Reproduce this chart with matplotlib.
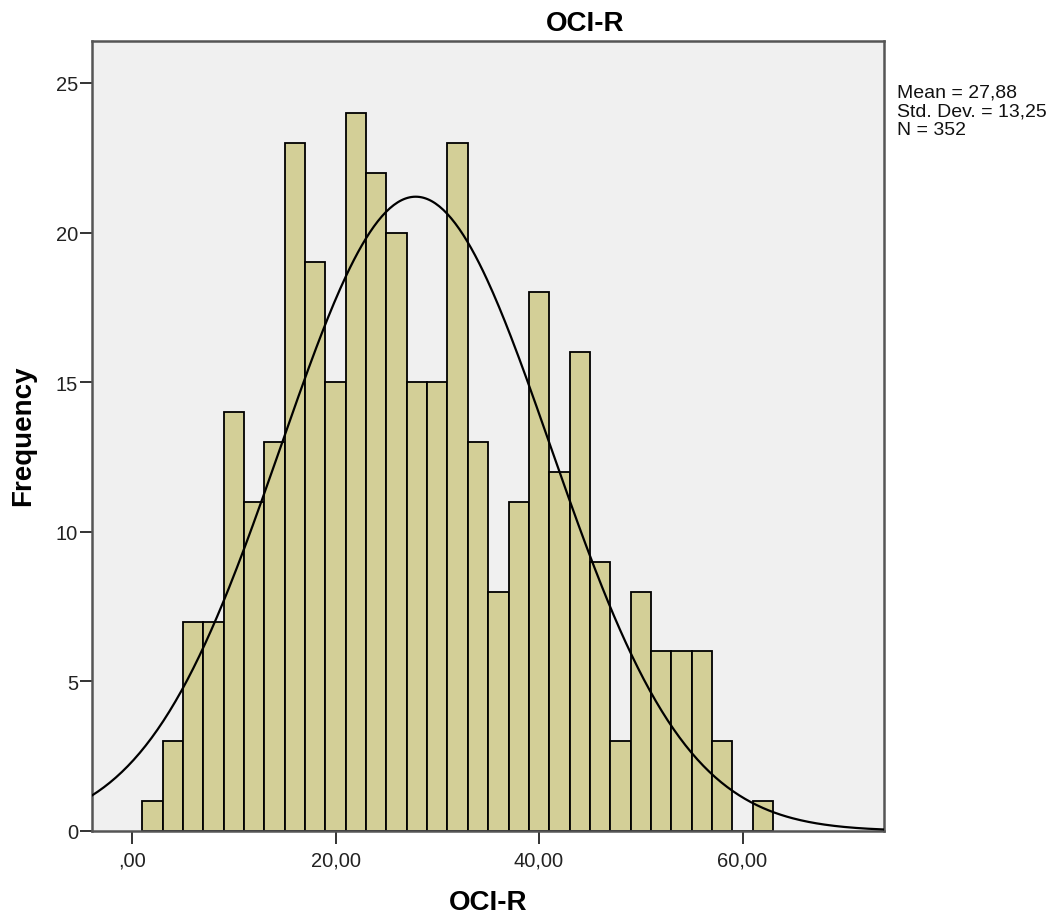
import numpy as np
import matplotlib
matplotlib.use("Agg")
import matplotlib.pyplot as plt

plt.rcParams['font.family'] = ['Liberation Sans', 'DejaVu Sans']

# histogram bins (left edges, width 2) and counts
bin_left = [1, 3, 5, 7, 9, 11, 13, 15, 17, 19, 21, 23, 25, 27, 29, 31,
            33, 35, 37, 39, 41, 43, 45, 47, 49, 51, 53, 55, 57, 59, 61]
counts = [1, 3, 7, 7, 14, 11, 13, 23, 19, 15, 24, 22, 20, 15, 15, 23,
          13, 8, 11, 18, 12, 16, 9, 3, 8, 6, 6, 6, 3, 0, 1]
bin_width = 2.0

mean = 27.88
std = 13.25
n = 352

x_ticks = [0, 20, 40, 60]
x_ticklabels = [',00', '20,00', '40,00', '60,00']
y_ticks = [0, 5, 10, 15, 20, 25]

fig = plt.figure(figsize=(10.64, 9.20), dpi=100)
ax = fig.add_axes([92/1064, 88/920, (884-92)/1064, (832-42)/920])
ax.set_facecolor('#f0f0f0')

ax.bar(bin_left, counts, width=bin_width, align='edge',
       color='#d3cf97', edgecolor='black', linewidth=1.3, zorder=2)

xlim = (-3.93, 73.9)
xs = np.linspace(xlim[0], xlim[1], 400)
ys = n * bin_width * np.exp(-0.5*((xs-mean)/std)**2) / (std*np.sqrt(2*np.pi))
ax.plot(xs, ys, color='black', linewidth=1.6, zorder=3)

ax.set_xlim(*xlim)
ax.set_ylim(0, 26.4)
ax.set_xticks(x_ticks)
ax.set_xticklabels(x_ticklabels)
ax.set_yticks(y_ticks)

for s in ax.spines.values():
    s.set_color('#555555')
    s.set_linewidth(1.8)

ax.tick_params(axis='x', direction='out', length=9, width=1.4, color='#333333',
               labelsize=14.5, pad=5, labelcolor='#222222')
ax.tick_params(axis='y', direction='out', length=9, width=1.4, color='#333333',
               labelsize=14.5, pad=1, labelcolor='#222222')

fig.text(585/1064, 1 - 24/920, 'OCI-R', ha='center', va='center',
         fontsize=20, fontweight='bold')
fig.text(488/1064, 1 - 903/920, 'OCI-R', ha='center', va='center',
         fontsize=20, fontweight='bold')
fig.text(23/1064, 1 - 436/920, 'Frequency', ha='center', va='center',
         rotation=90, fontsize=20, fontweight='bold')

stats = 'Mean = %s\nStd. Dev. = %s\nN = %d' % (
    ('%.2f' % mean).replace('.', ','), ('%.2f' % std).replace('.', ','), n)
fig.text(897/1064, 1 - 85/920, stats, ha='left', va='top',
         fontsize=14, linespacing=1.12, color='#111111')

fig.savefig('out.png', dpi=100)
